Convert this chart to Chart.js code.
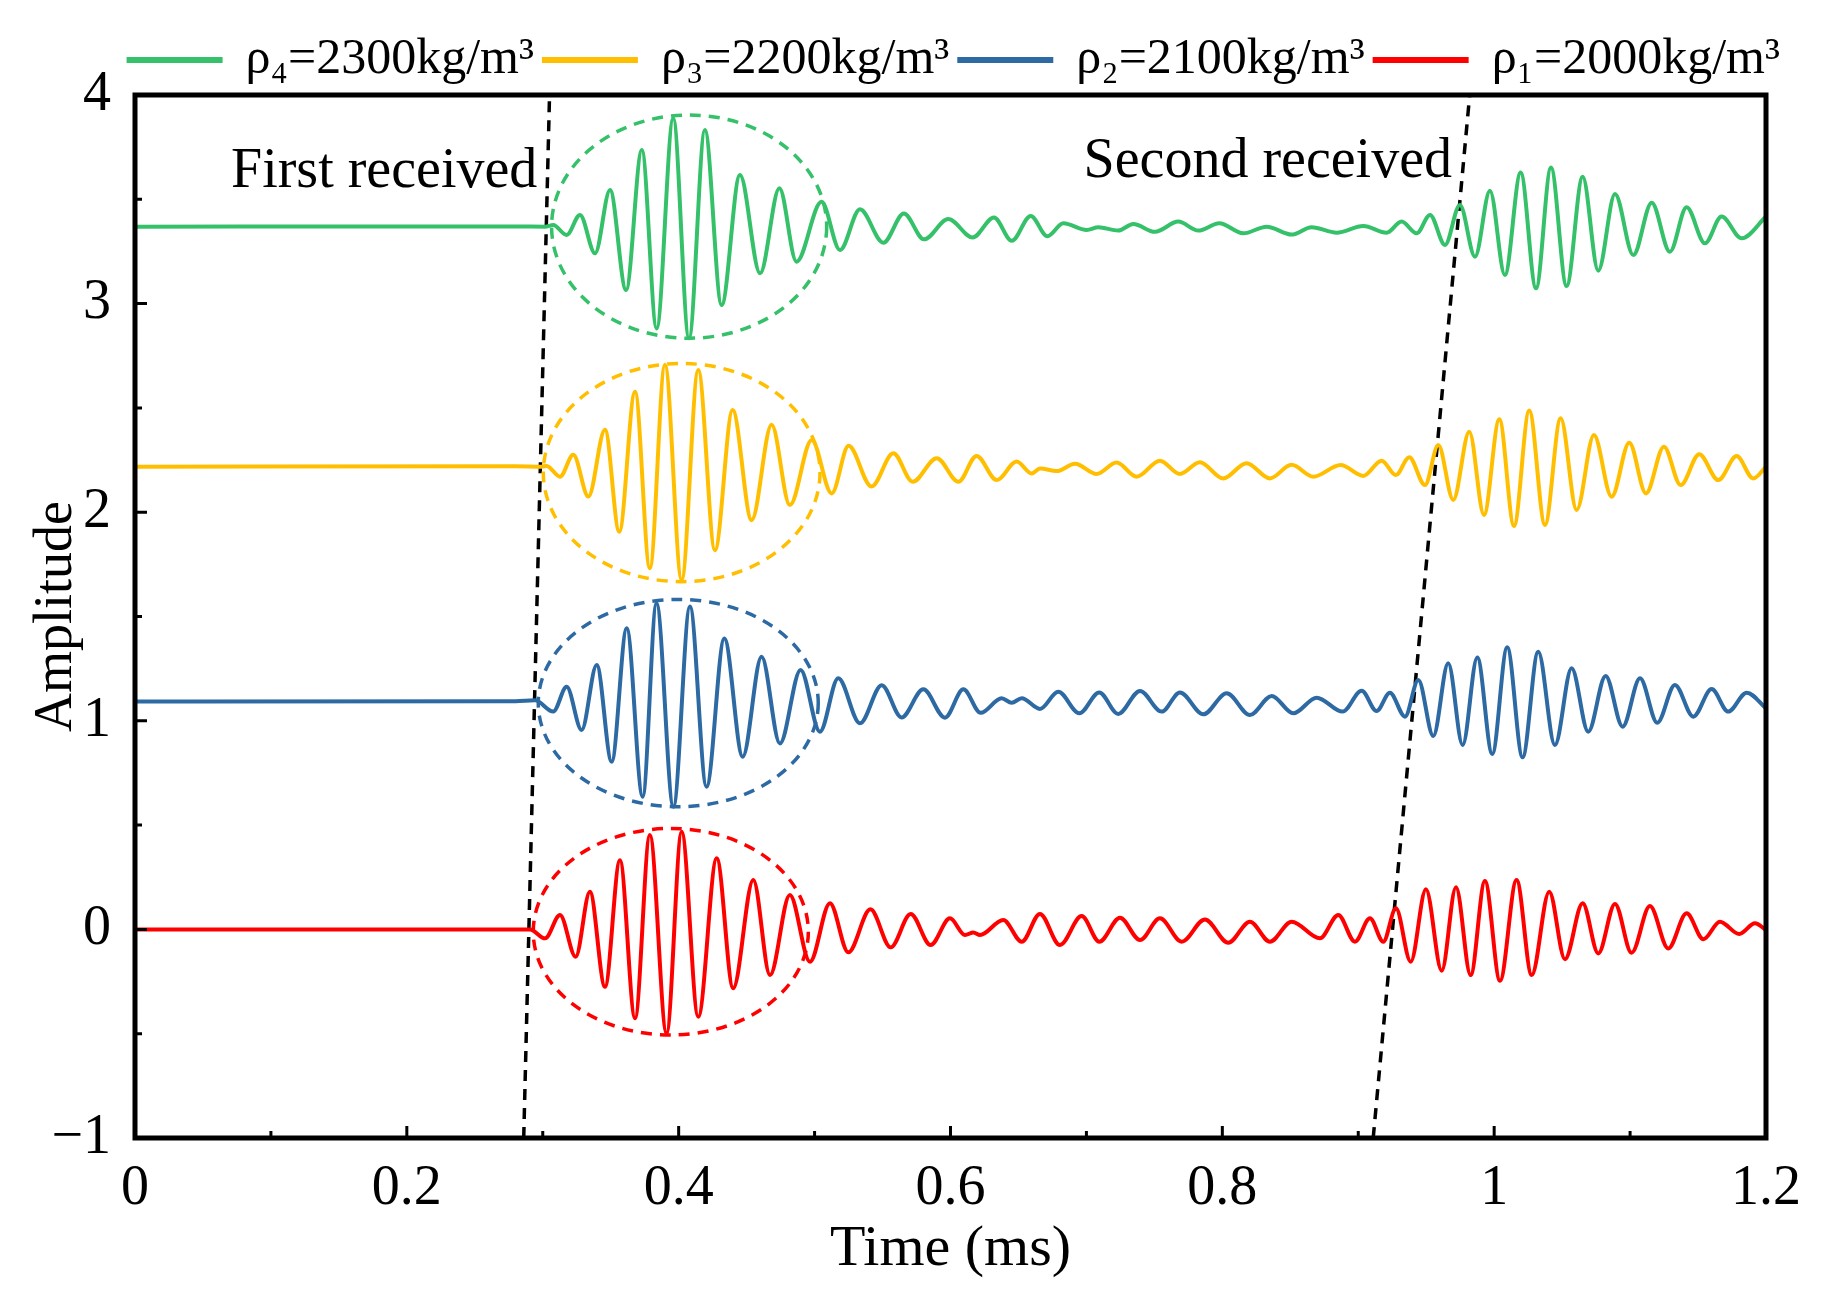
<!DOCTYPE html>
<html>
<head>
<meta charset="utf-8">
<script src="https://cdn.jsdelivr.net/npm/chart.js@4.4.1/dist/chart.umd.min.js"></script>
<style>
  html, body { margin: 0; padding: 0; background: #fff; }
  #wrap { width: 1822px; height: 1299px; }
</style>
</head>
<body>
<div id="wrap"><canvas id="waveChart"></canvas></div>
<script>
// received signals (time in ms, amplitude offset per density)
const rho4Time = [0, 0.28, 0.3017, 0.3077, 0.3176, 0.3274, 0.3385, 0.3495, 0.3613, 0.3729, 0.3838, 0.3960, 0.4076,
  0.4193, 0.4316, 0.4451, 0.4599, 0.4741, 0.4867, 0.5051, 0.5187, 0.5334, 0.5506, 0.5657, 0.5805, 0.5984, 0.6163,
  0.6320, 0.6451, 0.6590, 0.6713, 0.6830, 0.7002, 0.7088, 0.7234, 0.7345, 0.7504, 0.7676, 0.7823, 0.7978, 0.8154,
  0.8326, 0.8510, 0.8657, 0.8841, 0.9037, 0.9209, 0.9319, 0.9430, 0.9528, 0.9638, 0.9748, 0.9859, 0.9969, 1.0079,
  1.0195, 1.0308, 1.0418, 1.0533, 1.0651, 1.0766, 1.0889, 1.1024, 1.1159, 1.1293, 1.1416, 1.1551, 1.1673, 1.1821, 1.2];
const rho4Amp = [3.369, 3.370, 3.369, 3.377, 3.329, 3.425, 3.241, 3.545, 3.065, 3.736, 2.881, 3.888, 2.834,
  3.832, 2.993, 3.617, 3.145, 3.553, 3.201, 3.488, 3.257, 3.452, 3.292, 3.432, 3.308, 3.405, 3.317,
  3.413, 3.301, 3.420, 3.323, 3.385, 3.353, 3.366, 3.350, 3.382, 3.344, 3.393, 3.350, 3.385, 3.337,
  3.369, 3.331, 3.366, 3.340, 3.372, 3.340, 3.393, 3.337, 3.425, 3.281, 3.473, 3.225, 3.541, 3.137,
  3.628, 3.073, 3.652, 3.084, 3.608, 3.158, 3.525, 3.233, 3.484, 3.249, 3.462, 3.289, 3.417, 3.313, 3.417];

const rho3Time = [0, 0.28, 0.2992, 0.3029, 0.3127, 0.3225, 0.3336, 0.3458, 0.3563, 0.3679, 0.3788, 0.3899, 0.4022,
  0.4144, 0.4267, 0.4397, 0.4537, 0.4684, 0.4818, 0.4979, 0.5126, 0.5250, 0.5419, 0.5579, 0.5722, 0.5899, 0.6058,
  0.6192, 0.6340, 0.6487, 0.6597, 0.6659, 0.6781, 0.6916, 0.7075, 0.7222, 0.7370, 0.7541, 0.7688, 0.7835, 0.8007,
  0.8178, 0.8350, 0.8509, 0.8669, 0.8870, 0.9037, 0.9172, 0.9277, 0.9375, 0.9491, 0.9589, 0.9699, 0.9817, 0.9925,
  1.0038, 1.0146, 1.0258, 1.0374, 1.0489, 1.0607, 1.0734, 1.0864, 1.0994, 1.1117, 1.1249, 1.1372, 1.1509, 1.1649,
  1.1784, 1.1906, 1.2];
const rho3Amp = [2.218, 2.220, 2.218, 2.222, 2.170, 2.275, 2.075, 2.395, 1.906, 2.578, 1.731, 2.707, 1.675,
  2.682, 1.818, 2.490, 1.962, 2.419, 2.034, 2.346, 2.090, 2.318, 2.123, 2.283, 2.146, 2.259, 2.146,
  2.270, 2.154, 2.243, 2.186, 2.210, 2.197, 2.232, 2.183, 2.238, 2.170, 2.247, 2.183, 2.240, 2.162,
  2.235, 2.162, 2.227, 2.170, 2.226, 2.174, 2.247, 2.178, 2.263, 2.130, 2.322, 2.059, 2.386, 1.987,
  2.445, 1.934, 2.487, 1.939, 2.450, 2.011, 2.370, 2.074, 2.333, 2.090, 2.314, 2.130, 2.278, 2.154,
  2.269, 2.162, 2.218];

const rho2Time = [0, 0.28, 0.2943, 0.3077, 0.3176, 0.3286, 0.3397, 0.3507, 0.3618, 0.3735, 0.3837, 0.3961, 0.4083,
  0.4205, 0.4336, 0.4471, 0.4610, 0.4745, 0.4897, 0.5039, 0.5174, 0.5334, 0.5494, 0.5640, 0.5800, 0.5959, 0.6095,
  0.6222, 0.6376, 0.6450, 0.6524, 0.6658, 0.6793, 0.6948, 0.7094, 0.7234, 0.7394, 0.7554, 0.7688, 0.7860, 0.8032,
  0.8203, 0.8363, 0.8522, 0.8694, 0.8885, 0.9025, 0.9135, 0.9233, 0.9344, 0.9442, 0.9552, 0.9662, 0.9768, 0.9876,
  0.9986, 1.0096, 1.0209, 1.0324, 1.0447, 1.0570, 1.0692, 1.0820, 1.0945, 1.1073, 1.1200, 1.1330, 1.1465, 1.1600,
  1.1722, 1.1858, 1.2];
const rho2Amp = [1.092, 1.094, 1.098, 1.044, 1.163, 0.956, 1.268, 0.804, 1.444, 0.636, 1.564, 0.588, 1.548,
  0.684, 1.395, 0.828, 1.307, 0.891, 1.244, 0.948, 1.204, 0.988, 1.171, 1.016, 1.151, 1.015, 1.151,
  1.038, 1.108, 1.087, 1.108, 1.057, 1.139, 1.036, 1.136, 1.033, 1.143, 1.044, 1.136, 1.031, 1.132,
  1.028, 1.119, 1.036, 1.111, 1.044, 1.144, 1.047, 1.135, 1.020, 1.196, 0.927, 1.276, 0.884, 1.304,
  0.841, 1.352, 0.825, 1.331, 0.884, 1.252, 0.948, 1.215, 0.972, 1.204, 0.991, 1.172, 1.020, 1.152,
  1.044, 1.135, 1.060];

const rho1Time = [0, 0.28, 0.2906, 0.3017, 0.3127, 0.3242, 0.3347, 0.3458, 0.3568, 0.3679, 0.3788, 0.3911, 0.4022,
  0.4144, 0.4280, 0.4401, 0.4549, 0.4672, 0.4818, 0.4966, 0.5113, 0.5248, 0.5411, 0.5560, 0.5707, 0.5854, 0.5996,
  0.6107, 0.6168, 0.6217, 0.6388, 0.6524, 0.6658, 0.6805, 0.6965, 0.7095, 0.7247, 0.7394, 0.7541, 0.7701, 0.7872,
  0.8044, 0.8203, 0.8350, 0.8510, 0.8718, 0.8853, 0.8976, 0.9086, 0.9184, 0.9277, 0.9386, 0.9498, 0.9614, 0.9719,
  0.9827, 0.9932, 1.0043, 1.0165, 1.0276, 1.0405, 1.0521, 1.0651, 1.0766, 1.0889, 1.1011, 1.1146, 1.1281, 1.1416,
  1.1539, 1.1661, 1.1803, 1.1919, 1.2];
const rho1Amp = [0, 0, 0, -0.043, 0.069, -0.131, 0.181, -0.275, 0.332, -0.426, 0.452, -0.498, 0.468,
  -0.419, 0.341, -0.282, 0.237, -0.219, 0.165, -0.155, 0.125, -0.110, 0.096, -0.086, 0.074, -0.075, 0.053,
  -0.027, -0.015, -0.027, 0.045, -0.059, 0.074, -0.075, 0.064, -0.059, 0.056, -0.051, 0.053, -0.059, 0.048,
  -0.064, 0.037, -0.059, 0.037, -0.043, 0.069, -0.059, 0.053, -0.059, 0.101, -0.155, 0.192, -0.198, 0.202,
  -0.219, 0.232, -0.246, 0.237, -0.219, 0.181, -0.143, 0.125, -0.115, 0.122, -0.112, 0.112, -0.091, 0.077,
  -0.047, 0.037, -0.022, 0.029, -0.003];

const seriesLabels = ["ρ₄=2300kg/m³", "ρ₃=2200kg/m³", "ρ₂=2100kg/m³", "ρ₁=2000kg/m³"];
const seriesColors = ["#35c06a", "#ffbf00", "#2d6aa3", "#ff0000"];

// arrival guide lines (time at amplitude -1 and 4)
const firstArrivalTime = [0.286, 0.305];
const secondArrivalTime = [0.911, 0.982];
const arrivalAmp = [-1, 4];

// dashed ellipses round the first packets: centre time, centre amplitude, half width, half height
const packetEllipses = [
  { t: 0.4077, a: 3.369, dt: 0.1012, da: 0.535, color: seriesColors[0] },
  { t: 0.4022, a: 2.190, dt: 0.1018, da: 0.523, color: seriesColors[1] },
  { t: 0.3997, a: 1.085, dt: 0.1030, da: 0.497, color: seriesColors[2] },
  { t: 0.3942, a: -0.011, dt: 0.1012, da: 0.495, color: seriesColors[3] }
];
const notes = [
  { text: "First received", t: 0.296, a: 3.56 },
  { text: "Second received", t: 0.969, a: 3.607 }
];

const toPoints = (xs, ys) => xs.map((x, i) => ({ x: x, y: ys[i] }));

function wave(i, xs, ys) {
  return {
    label: seriesLabels[i],
    data: toPoints(xs, ys),
    borderColor: seriesColors[i],
    backgroundColor: seriesColors[i],
    borderWidth: 4,
    pointRadius: 0,
    cubicInterpolationMode: "monotone"
  };
}
function guide(xs) {
  return {
    label: "guide",
    data: toPoints(xs, arrivalAmp),
    borderColor: "#000",
    borderWidth: 3.5,
    borderDash: [11, 8],
    pointRadius: 0
  };
}

const decorations = {
  id: "decorations",
  afterDatasetsDraw(chart) {
    const { ctx, scales: { x, y } } = chart;
    ctx.save();
    ctx.lineWidth = 3.5;
    ctx.setLineDash([11, 8]);
    packetEllipses.forEach(e => {
      const cx = x.getPixelForValue(e.t), cy = y.getPixelForValue(e.a);
      const rx = Math.abs(x.getPixelForValue(e.t + e.dt) - cx);
      const ry = Math.abs(y.getPixelForValue(e.a + e.da) - cy);
      ctx.strokeStyle = e.color;
      ctx.beginPath();
      ctx.ellipse(cx, cy, rx, ry, 0, 0, Math.PI * 2);
      ctx.stroke();
    });
    ctx.setLineDash([]);
    ctx.fillStyle = "#000";
    ctx.font = '56px "Liberation Serif"';
    ctx.textAlign = "right";
    ctx.textBaseline = "alphabetic";
    notes.forEach(n => ctx.fillText(n.text, x.getPixelForValue(n.t), y.getPixelForValue(n.a)));
    ctx.restore();
  },
  afterDraw(chart) {
    const { ctx, chartArea: a, scales: { x, y } } = chart;
    ctx.save();
    ctx.strokeStyle = "#000";
    ctx.lineWidth = 3;
    const xt = x.ticks.map(t => t.value);
    const yt = y.ticks.map(t => t.value);
    ctx.beginPath();
    xt.forEach((v, i) => {
      const p = x.getPixelForValue(v);
      ctx.moveTo(p, a.bottom); ctx.lineTo(p, a.bottom - 12);
      if (i < xt.length - 1) {
        const m = x.getPixelForValue((v + xt[i + 1]) / 2);
        ctx.moveTo(m, a.bottom); ctx.lineTo(m, a.bottom - 7);
      }
    });
    yt.forEach((v, i) => {
      const p = y.getPixelForValue(v);
      ctx.moveTo(a.left, p); ctx.lineTo(a.left + 12, p);
      if (i < yt.length - 1) {
        const m = y.getPixelForValue((v + yt[i + 1]) / 2);
        ctx.moveTo(a.left, m); ctx.lineTo(a.left + 7, m);
      }
    });
    ctx.stroke();
    ctx.lineWidth = 5;
    ctx.strokeRect(a.left, a.top, a.right - a.left, a.bottom - a.top);
    ctx.restore();
  }
};

Chart.defaults.font.family = '"Liberation Serif", "Times New Roman", serif';
Chart.defaults.color = "#000";

new Chart(document.getElementById("waveChart"), {
  type: "line",
  data: {
    datasets: [
      wave(0, rho4Time, rho4Amp),
      wave(1, rho3Time, rho3Amp),
      wave(2, rho2Time, rho2Amp),
      wave(3, rho1Time, rho1Amp),
      guide(firstArrivalTime),
      guide(secondArrivalTime)
    ]
  },
  options: {
    responsive: true,
    maintainAspectRatio: false,
    animation: false,
    layout: { padding: { top: 25, right: 32, bottom: 0, left: 0 } },
    plugins: {
      tooltip: { enabled: false },
      legend: {
        position: "top",
        align: "end",
        labels: {
          boxWidth: 92,
          boxHeight: 2,
          padding: 10,
          font: { size: 50 },
          filter: item => item.datasetIndex < 4
        }
      }
    },
    scales: {
      x: {
        type: "linear",
        min: 0,
        max: 1.2,
        grid: { display: false },
        border: { display: false },
        ticks: {
          stepSize: 0.2,
          padding: 10,
          maxRotation: 0,
          autoSkip: false,
          font: { size: 56 },
          callback: v => String(Math.round(v * 10) / 10)
        },
        title: { display: true, text: "Time (ms)", font: { size: 58 }, padding: { top: 0, bottom: 14 } },
        afterFit: s => { s.height = 161; s.paddingLeft = 0; s.paddingRight = 56; }
      },
      y: {
        min: -1,
        max: 4,
        grid: { display: false },
        border: { display: false },
        ticks: {
          stepSize: 1,
          padding: 16,
          font: { size: 56 },
          callback: v => (v < 0 ? "\u2212" + Math.abs(v) : String(v))
        },
        title: { display: true, text: "Amplitude", font: { size: 54 }, padding: { top: 24, bottom: 0 } },
        afterFit: s => { s.width = 135; }
      }
    }
  },
  plugins: [decorations]
});
</script>
</body>
</html>
